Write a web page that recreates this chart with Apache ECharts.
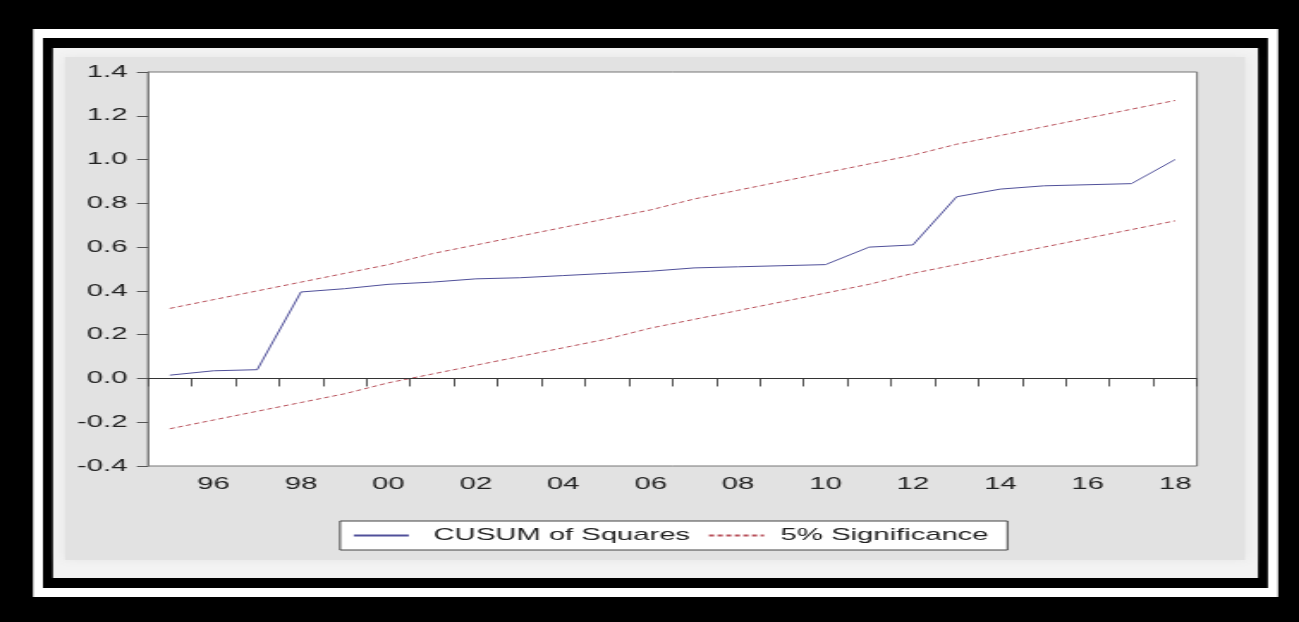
<!DOCTYPE html>
<html>
<head>
<meta charset="utf-8">
<title>CUSUM of Squares</title>
<script src="https://cdn.jsdelivr.net/npm/echarts@6/dist/echarts.min.js"></script>
<style>
  html, body { margin: 0; padding: 0; background: #000; overflow: hidden; }
  /* the source picture is stretched sideways, so draw narrow and stretch */
  #chart { width: 756px; height: 622px; transform: scaleX(1.7183); transform-origin: 0 0; }
</style>
</head>
<body>
<div id="chart"></div>
<script>
const years = ['1995', '1996', '1997', '1998', '1999', '2000', '2001', '2002', '2003', '2004', '2005', '2006',
  '2007', '2008', '2009', '2010', '2011', '2012', '2013', '2014', '2015', '2016', '2017', '2018']

const cusumSq = [0.015, 0.035, 0.04, 0.395, 0.41, 0.43, 0.44, 0.455, 0.46, 0.47, 0.48, 0.49,
  0.505, 0.51, 0.515, 0.52, 0.60, 0.61, 0.83, 0.865, 0.88, 0.885, 0.89, 1.0]

const upperBound = [0.32, 0.36, 0.40, 0.44, 0.48, 0.52, 0.57, 0.61, 0.65, 0.69, 0.73, 0.77,
  0.82, 0.86, 0.90, 0.94, 0.98, 1.02, 1.07, 1.11, 1.15, 1.19, 1.23, 1.27]

const lowerBound = [-0.23, -0.19, -0.15, -0.11, -0.07, -0.02, 0.02, 0.06, 0.10, 0.14, 0.18, 0.23,
  0.27, 0.31, 0.35, 0.39, 0.43, 0.48, 0.52, 0.56, 0.60, 0.64, 0.68, 0.72]

const yMin = -0.4
const yMax = 1.4
const yStep = 0.2

const font = "'Liberation Sans', Arial, sans-serif"

const chart = echarts.init(document.getElementById('chart'))

// frame decoration: white border, black border, grey panel
const frame = [
  { type: 'rect', z: -100, silent: true, shape: { x: 19.2, y: 29, width: 724.6, height: 568 }, style: { fill: '#ffffff' } },
  { type: 'rect', z: -99, silent: true, shape: { x: 25.0, y: 38, width: 712.9, height: 550 }, style: { fill: '#000000' } },
  { type: 'rect', z: -98, silent: true, shape: { x: 30.8, y: 48, width: 701.3, height: 530 }, style: { fill: '#f3f3f3' } },
  { type: 'rect', z: -97, silent: true, shape: { x: 37.8, y: 57, width: 686.7, height: 503 },
    style: { fill: '#e2e2e2', shadowBlur: 8, shadowColor: '#e6e6e6' } }
]

const option = {
  backgroundColor: '#000',
  animation: false,
  textStyle: { fontFamily: font },
  graphic: frame,
  grid: {
    left: 86.1,
    top: 72,
    width: 610.5,
    height: 394,
    show: true,
    backgroundColor: '#fff',
    borderColor: '#777',
    borderWidth: 1
  },
  legend: {
    left: 197.9,
    top: 521,
    padding: [6, 11, 6, 7],
    itemGap: 10,
    itemWidth: 32,
    itemHeight: 14,
    backgroundColor: '#fff',
    borderColor: '#444',
    borderWidth: 1,
    borderRadius: 0,
    // only the line sample, no symbol
    itemStyle: { opacity: 0 },
    data: ['CUSUM of Squares', '5% Significance'],
    formatter: (name) => (name === 'CUSUM of Squares' ? '  ' : ' ') + name,
    textStyle: { fontFamily: font, fontSize: 17, color: '#222' }
  },
  xAxis: {
    type: 'category',
    data: years,
    boundaryGap: true,
    axisLine: { show: true, lineStyle: { color: '#777', width: 1 } },
    axisTick: { show: true, interval: 0, length: 8, lineStyle: { color: '#555' } },
    axisLabel: {
      interval: (index) => index % 2 === 1,
      formatter: (v) => v.slice(2),
      margin: 10,
      fontFamily: font,
      fontSize: 17,
      color: '#222'
    },
    splitLine: { show: false }
  },
  yAxis: {
    type: 'value',
    min: yMin,
    max: yMax,
    interval: yStep,
    axisLine: { show: true, lineStyle: { color: '#777', width: 1 } },
    axisTick: { show: true, length: 6.4, lineStyle: { color: '#555' } },
    axisLabel: {
      formatter: (v) => v.toFixed(1),
      margin: 12,
      fontFamily: font,
      fontSize: 17,
      color: '#222'
    },
    splitLine: { show: false }
  },
  series: [
    {
      name: 'CUSUM of Squares',
      type: 'line',
      data: cusumSq,
      symbol: 'none',
      z: 4,
      lineStyle: { color: '#50509a', width: 1 },
      itemStyle: { color: '#50509a' },
      markLine: {
        silent: true,
        symbol: 'none',
        label: { show: false },
        lineStyle: { color: '#333', type: 'solid', width: 1 },
        data: [{ yAxis: 0 }]
      }
    },
    {
      name: '5% Significance',
      type: 'line',
      data: upperBound,
      symbol: 'none',
      lineStyle: { color: '#b8505a', width: 1, type: [3, 2] },
      itemStyle: { color: '#b8505a' }
    },
    {
      name: '5% Significance',
      type: 'line',
      data: lowerBound,
      symbol: 'none',
      lineStyle: { color: '#b8505a', width: 1, type: [3, 2] },
      itemStyle: { color: '#b8505a' }
    }
  ]
}

chart.setOption(option)
</script>
</body>
</html>
